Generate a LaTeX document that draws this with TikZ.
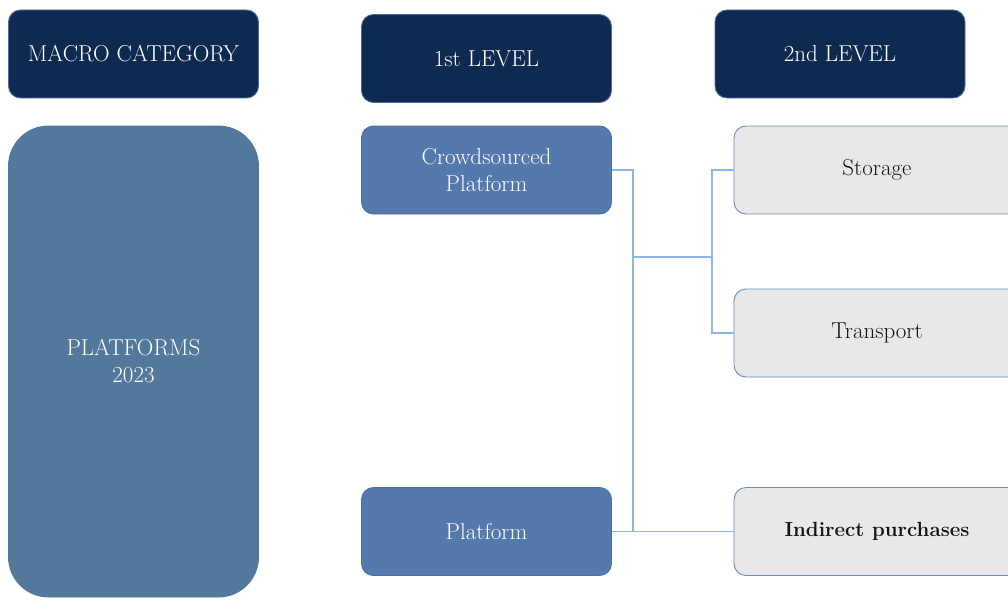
\documentclass[tikz,border=0pt]{standalone}
\definecolor{navy}{HTML}{0F2A51}
\definecolor{navyedge}{HTML}{4A6D99}
\definecolor{macro}{HTML}{52789B}
\definecolor{lvlone}{HTML}{5479AD}
\definecolor{lvloneedge}{HTML}{4B6E9F}
\definecolor{lvltwo}{HTML}{E8E8E8}
\definecolor{lvltwoedge}{HTML}{6A8CB6}
\definecolor{linkcol}{HTML}{8DB6E3}
\tikzset{
  box/.style={rectangle, rounded corners=12pt, align=center, inner sep=0pt,
    minimum width=250pt, minimum height=88pt, line width=0.9pt,
    font=\fontsize{23}{27}\selectfont},
  headbox/.style={box, fill=navy, draw=navyedge, text=white},
  catbox/.style={box, fill=macro, draw=macro, text=white, rounded corners=40pt,
    minimum height=471pt},
  onebox/.style={box, fill=lvlone, draw=lvloneedge, text=white},
  twobox/.style={box, fill=lvltwo, draw=lvltwoedge, text=black!92, minimum width=286pt},
  link/.style={draw=linkcol, line width=1.3pt}
}
\begin{document}
\begin{tikzpicture}[x=1pt, y=-1pt]
\useasboundingbox (0,0) rectangle (1008,599);
\clip (0,0) rectangle (1008,599);
% column headers
\node[headbox] (hmacro) at (133.5,54) {MACRO CATEGORY};
\node[headbox] (hone) at (486.5,58.5) {1st LEVEL};
\node[headbox] (htwo) at (840,54) {2nd LEVEL};
% macro category
\node[catbox] (plat) at (133.5,361.5) {PLATFORMS\\2023};
% first level
\node[onebox] (cp) at (486.5,170) {Crowdsourced\\Platform};
\node[onebox] (pf) at (486.5,531.5) {Platform};
% second level
\node[twobox] (st) at (877,170) {Storage};
\node[twobox] (tr) at (877,333) {Transport};
\node[twobox] (ip) at (877,531.5) {\fontsize{20.5}{24}\selectfont\bfseries Indirect purchases};
% connectors
\coordinate (j1) at (633,257);
\coordinate (j2) at (712,257);
\draw[link] (cp.east) -| (j1) -- (j1 |- pf.east);
\draw[link] (pf.east) -- (ip.west);
\draw[link] (j1) -- (j2);
\draw[link] (st.west) -| (j2) |- (tr.west);
\end{tikzpicture}
\end{document}
